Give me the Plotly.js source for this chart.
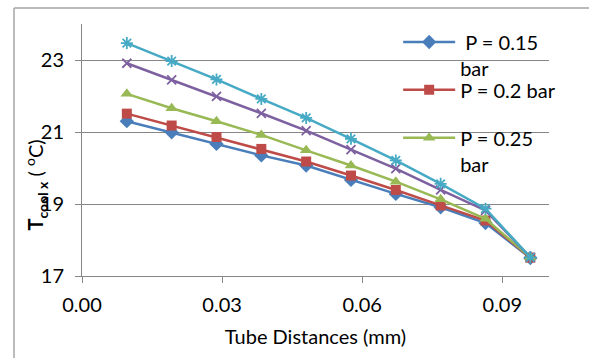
<!DOCTYPE html>
<html>
<head>
<meta charset="utf-8">
<script src="https://cdn.plot.ly/plotly-3.0.1.min.js"></script>
<style>html,body{margin:0;padding:0;background:#fff;}#chart{width:589px;height:358px;}</style>
</head>
<body>
<div id="chart"></div>
<script>
// Tube distance (mm)
const distances = [0.0096, 0.0192, 0.0288, 0.0384, 0.048, 0.0576, 0.0672, 0.0768, 0.0864, 0.096];
// T_cool x (°C) per pressure
const p015 = [21.30, 20.99, 20.67, 20.35, 20.07, 19.67, 19.28, 18.91, 18.47, 17.50];
const p020 = [21.51, 21.18, 20.86, 20.53, 20.18, 19.79, 19.39, 18.96, 18.54, 17.51];
const p025 = [22.06, 21.66, 21.30, 20.92, 20.49, 20.07, 19.62, 19.13, 18.59, 17.52];
const p030 = [22.91, 22.45, 21.99, 21.52, 21.04, 20.51, 19.98, 19.39, 18.82, 17.52];
const p035 = [23.47, 22.97, 22.46, 21.92, 21.39, 20.81, 20.21, 19.56, 18.87, 17.52];
const seriesNames = ["&nbsp;P = 0.15<br>bar", "P = 0.2 bar", "P = 0.25<br>bar", "P = 0.3 bar", "P = 0.35 bar"];
const xTicks = [0, 0.03, 0.06, 0.09];
const xTickText = ["0.00", "0.03", "0.06", "0.09"];
const yTicks = [17, 19, 21, 23];

const FONT = "Lato, 'Open Sans', sans-serif";
const FS = 20;
const grid = "#868686";

function tr(y, name, color, symbol, size, legend, show) {
  return {
    x: distances, y: y, name: name, type: "scatter", mode: "lines+markers",
    line: {color: color, width: 2.5},
    marker: {color: color, symbol: symbol, size: size, line: {color: color, width: symbol.indexOf("open") >= 0 ? 1.8 : 0}},
    legend: legend, showlegend: show
  };
}

const data = [
  tr(p015, seriesNames[0], "#4A7EBB", "diamond", 11, "legend", true),
  tr(p020, seriesNames[1], "#BE4B48", "square", 10, "legend2", true),
  tr(p025, seriesNames[2], "#98B954", "triangle-up", 11, "legend3", true),
  tr(p030, seriesNames[3], "#7D60A0", "x-thin-open", 9, "legend", false),
  tr(p035, seriesNames[4], "#46AAC5", "asterisk-open", 10, "legend", false)
];

const legBase = {xanchor: "left", yanchor: "top", bgcolor: "rgba(0,0,0,0)", borderwidth: 0,
  font: {family: FONT, size: FS, color: "#000"}, itemwidth: 52, valign: "top", tracegroupgap: 0};

const layout = {
  width: 589, height: 358,
  margin: {l: 82, r: 40, t: 24, b: 82},
  paper_bgcolor: "#fff", plot_bgcolor: "#fff",
  font: {family: FONT, size: FS, color: "#000"},
  xaxis: {
    range: [0, 0.1], tickmode: "array", tickvals: xTicks, ticktext: xTickText,
    showgrid: false, zeroline: false, showline: true, linecolor: grid, linewidth: 1,
    ticks: "outside", ticklen: 6, tickcolor: grid, tickwidth: 1, ticklabelstandoff: 5,
    tickfont: {family: FONT, size: FS, color: "#000"},
    title: {text: "Tube Distances (mm)", font: {family: FONT, size: FS, color: "#000"}, standoff: 14}
  },
  yaxis: {
    range: [17, 24], tickmode: "array", tickvals: yTicks,
    showgrid: true, gridcolor: grid, gridwidth: 1, zeroline: false,
    showline: true, linecolor: grid, linewidth: 1,
    ticks: "outside", ticklen: 6, tickcolor: grid, tickwidth: 1, ticklabelstandoff: 7,
    tickfont: {family: FONT, size: FS, color: "#000"}
  },
  legend: Object.assign({}, legBase, {x: 0.677, y: 1.006}),
  legend2: Object.assign({}, legBase, {x: 0.677, y: 0.816}),
  legend3: Object.assign({}, legBase, {x: 0.677, y: 0.626}),
  shapes: [
    {type: "line", xref: "paper", yref: "paper", x0: -0.1456, x1: 1.12, y0: 1.0635, y1: 1.0635,
     line: {color: "#a6a6a6", width: 1.5}, layer: "below"},
    {type: "line", xref: "paper", yref: "paper", x0: -0.1456, x1: -0.1456, y0: -0.33, y1: 1.0635,
     line: {color: "#a6a6a6", width: 1.5}, layer: "below"}
  ],
  annotations: [{
    xref: "paper", yref: "paper", x: -0.098, y: 0.36, xanchor: "center", yanchor: "middle",
    textangle: -90, showarrow: false,
    text: "<b>T</b><sub><b>cool x</b></sub> ( <sup>o</sup>C)",
    font: {family: FONT, size: FS, color: "#000"}
  }]
};

Plotly.newPlot("chart", data, layout, {displayModeBar: false, staticPlot: true});
</script>
</body>
</html>
